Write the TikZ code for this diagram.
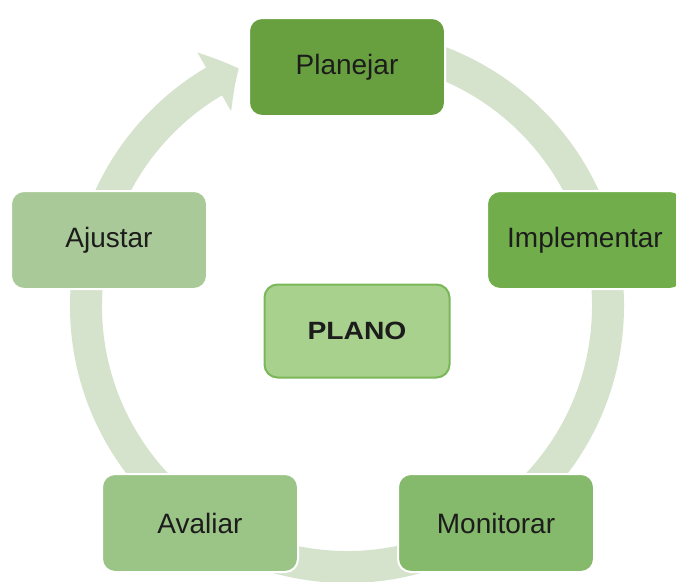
\documentclass[tikz,border=0pt]{standalone}
\usepackage{fontspec}
\setmainfont{Liberation Sans}
\usetikzlibrary{arrows.meta,bending}
\definecolor{ringc}{RGB}{213,226,204}
\definecolor{cPlan}{RGB}{104,160,64}
\definecolor{cImpl}{RGB}{113,174,75}
\definecolor{cMon}{RGB}{133,185,107}
\definecolor{cAval}{RGB}{155,196,135}
\definecolor{cAjus}{RGB}{169,202,152}
\definecolor{cPlanoFill}{RGB}{169,209,142}
\definecolor{cPlanoLine}{RGB}{122,183,88}
\definecolor{txt}{RGB}{28,28,28}
\tikzset{
  stepbox/.style={rectangle, rounded corners=13pt, draw=white, line width=2pt,
    minimum width=196pt, minimum height=98pt, inner sep=0pt,
    text=txt, font=\fontsize{28}{34}\selectfont},
  centerbox/.style={rectangle, rounded corners=13pt, draw=cPlanoLine, line width=2pt,
    fill=cPlanoFill, minimum width=185pt, minimum height=93pt, inner sep=0pt,
    text=txt, font=\fontsize{25}{30}\selectfont\bfseries},
  ring/.style={draw=ringc, line width=32pt,
    -{Triangle[width=66pt,length=28pt,bend]}}
}
\begin{document}
\begin{tikzpicture}[x=1pt,y=-1pt]
\useasboundingbox (0,0) rectangle (676,581);
\clip (0,0) rectangle (676,581);
\coordinate (c) at (347,306);
\draw[ring] (c) ++(-85:261) arc[start angle=-85, end angle=245.5, radius=261];
\node[stepbox, fill=cPlan] (plan) at (347,67) {Planejar};
\node[stepbox, fill=cImpl] (impl) at (585,240) {Implementar};
\node[stepbox, fill=cMon] (mon) at (496,523) {Monitorar};
\node[stepbox, fill=cAval] (aval) at (200,523) {Avaliar};
\node[stepbox, fill=cAjus] (ajus) at (109,240) {Ajustar};
\node[centerbox] (plano) at (357,331) {\scalebox{1.13}[1]{PLANO}};
\end{tikzpicture}
\end{document}
